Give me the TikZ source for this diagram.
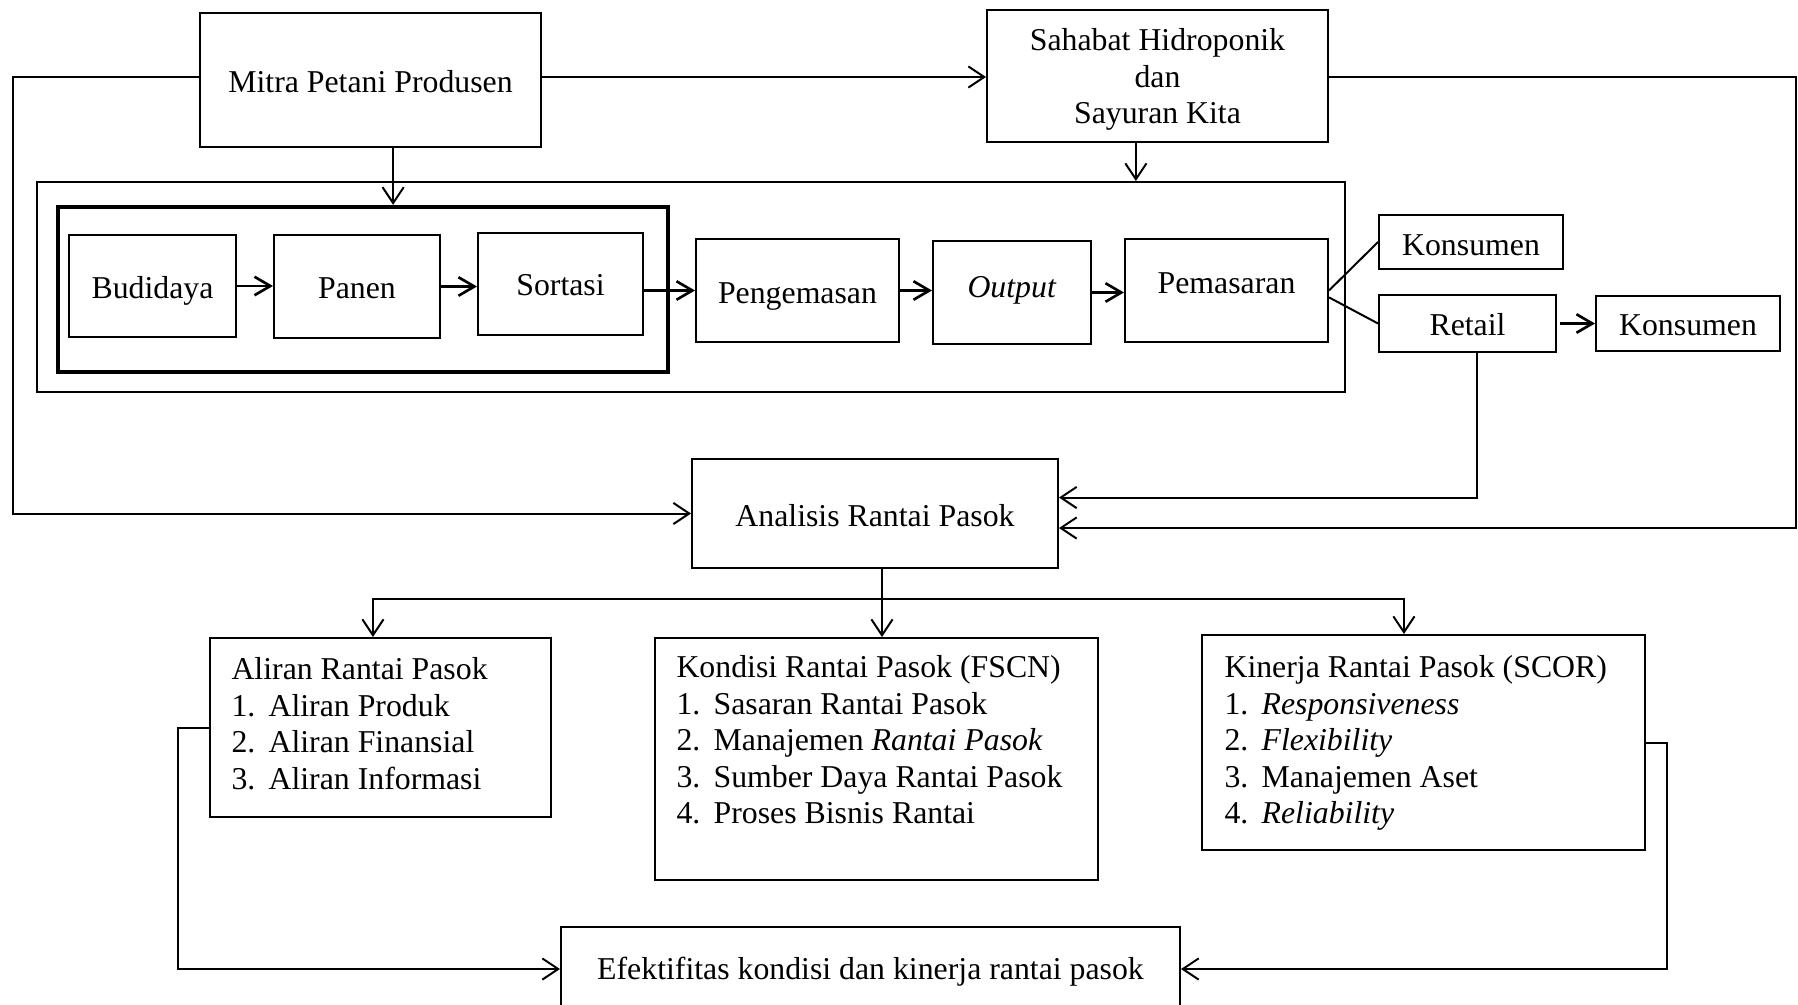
\documentclass[tikz,border=0pt]{standalone}
\usepackage{fontspec}
\setmainfont{Liberation Serif}
\usetikzlibrary{arrows.meta,fit,calc}
\begin{document}
\begin{tikzpicture}[x=0.3774pt,y=-0.3774pt,
  every node/.style={font=\fontsize{12}{13.8}\selectfont},
  box/.style={draw, line width=0.75pt, inner sep=0pt, rectangle},
  thickbox/.style={draw, line width=1.6pt, inner sep=0pt, rectangle},
  lbl/.style={anchor=base, inner sep=0pt},
  conn/.style={line width=0.75pt},
  arr/.style={conn, -{Straight Barb[length=6pt,width=8pt]}},
  parr/.style={line width=1pt, -{Straight Barb[length=6pt,width=7pt]}},
  listtext/.style={anchor=north west, inner sep=0pt, align=left}
]
\useasboundingbox (0,0) rectangle (1798,1004);
\clip (0,0) rectangle (1798,1004);

% top boxes
\node[box, fit={(200,13)(541,147)}] (mitra) {};
\node[lbl] (mitraT) at ($(mitra.center)+(0,12.5)$) {Mitra Petani Produsen};
\node[box, fit={(987,10)(1328,142)}] (sahabat) {};
\node[align=center, inner sep=0pt] (sahabatT) at ($(sahabat.center)+(0,3.5)$) {Sahabat Hidroponik\\dan\\Sayuran Kita};

% process frame
\node[box, fit={(37,182)(1345,392)}] (outer) {};
\node[thickbox, fit={(58,207)(668,372)}] (thick) {};
\node[box, fit={(69,235)(236,337)}] (budidaya) {};
\node[lbl] (budidayaT) at ($(budidaya.center)+(0,12.5)$) {Budidaya};
\node[box, fit={(274,235)(440,338)}] (panen) {};
\node[lbl] (panenT) at ($(panen.center)+(0,12)$) {Panen};
\node[box, fit={(478,233)(643,335)}] (sortasi) {};
\node[lbl] (sortasiT) at ($(sortasi.center)+(0,11.5)$) {Sortasi};
\node[box, fit={(696,239)(899,342)}] (pengemasan) {};
\node[lbl] (pengemasanT) at ($(pengemasan.center)+(0,13)$) {Pengemasan};
\node[box, fit={(933,241)(1091,344)}] (output) {};
\node[lbl] (outputT) at ($(output.center)+(0,5)$) {\textit{Output}};
\node[box, fit={(1125,239)(1328,342)}] (pemasaran) {};
\node[lbl] (pemasaranT) at ($(pemasaran.center)+(0,3)$) {Pemasaran};
\node[box, fit={(1379,215)(1563,269)}] (kons1) {};
\node[lbl] (kons1T) at ($(kons1.center)+(0,13.5)$) {Konsumen};
\node[box, fit={(1379,295)(1556,352)}] (retail) {};
\node[lbl] (retailT) at ($(retail.center)+(0,12)$) {Retail};
\node[box, fit={(1596,296)(1780,351)}] (kons2) {};
\node[lbl] (kons2T) at ($(kons2.center)+(0,12)$) {Konsumen};

% analysis
\node[box, fit={(692,459)(1058,568)}] (analisis) {};
\node[lbl] (analisisT) at ($(analisis.center)+(0,12.5)$) {Analisis Rantai Pasok};

% three boxes
\node[box, fit={(210,638)(551,817)}] (aliran) {};
\node[listtext] (aliranT) at (231,657) {Aliran Rantai Pasok\\
\makebox[14pt][l]{1.}Aliran Produk\\
\makebox[14pt][l]{2.}Aliran Finansial\\
\makebox[14pt][l]{3.}Aliran Informasi};

\node[box, fit={(655,638)(1098,880)}] (fscn) {};
\node[listtext] (fscnT) at (676,655) {Kondisi Rantai Pasok (FSCN)\\
\makebox[14pt][l]{1.}Sasaran Rantai Pasok\\
\makebox[14pt][l]{2.}Manajemen \textit{Rantai Pasok}\\
\makebox[14pt][l]{3.}Sumber Daya Rantai Pasok\\
\makebox[14pt][l]{4.}Proses Bisnis Rantai};

\node[box, fit={(1202,635)(1645,850)}] (kinerja) {};
\node[listtext] (kinerjaT) at (1224,655) {Kinerja Rantai Pasok (SCOR)\\
\makebox[14pt][l]{1.}\textit{Responsiveness}\\
\makebox[14pt][l]{2.}\textit{Flexibility}\\
\makebox[14pt][l]{3.}Manajemen Aset\\
\makebox[14pt][l]{4.}\textit{Reliability}};

\node[box, fit={(561,927)(1180,1011)}] (efek) {};
\node[lbl] (efekT) at ($(efek.center)+(0,10.5)$) {Efektifitas kondisi dan kinerja rantai pasok};

% helper coordinates
\coordinate (ytop) at (0,77);
\coordinate (xleft) at (12.6,0);
\coordinate (xright) at (1796,0);
\coordinate (yret1) at (0,497.5);
\coordinate (yret2) at (0,528);
\coordinate (ysplit) at (0,599);
\coordinate (xal) at (178,0);
\coordinate (xki) at (1667,0);
\coordinate (mitraOut) at ($(mitra.south west)!0.566!(mitra.south east)$);
\coordinate (sahOut) at ($(sahabat.south west)!0.437!(sahabat.south east)$);
\coordinate (retOut) at ($(retail.south west)!0.554!(retail.south east)$);
\coordinate (anaOut) at ($(analisis.south west)!0.519!(analisis.south east)$);
\coordinate (alIn) at ($(aliran.north west)!0.478!(aliran.north east)$);
\coordinate (kiIn) at ($(kinerja.north west)!0.456!(kinerja.north east)$);

% connectors
\draw[arr] (mitra.west |- ytop) -| (xleft |- analisis.west) -- (analisis.west);
\draw[arr] (mitra.east |- ytop) -- (sahabat.west |- ytop);
\draw[arr] (sahabat.east |- ytop) -| (xright |- yret2) -- (analisis.east |- yret2);
\draw[arr] (retOut) |- (analisis.east |- yret1);
\draw[arr] (mitraOut) -- (mitraOut |- thick.north);
\draw[arr] (sahOut) -- (sahOut |- outer.north);

\draw[parr] (budidaya.east) -- (budidaya.east -| panen.west);
\draw[parr] (panen.east) -- (panen.east -| sortasi.west);
\draw[parr] (sortasi.east |- pengemasan.west) -- (pengemasan.west);
\draw[parr] (pengemasan.east) -- (pengemasan.east -| output.west);
\draw[parr] (output.east) -- (output.east -| pemasaran.west);
\draw[conn] (pemasaran.east) -- (kons1.west);
\draw[conn] ([yshift=-2.6pt]pemasaran.east) -- (retail.west);
\draw[parr] ([xshift=1pt]retail.east) -- (retail.east -| kons2.west);

\draw[arr] (anaOut) -- (anaOut |- fscn.north);
\draw[conn, {Straight Barb[length=6pt,width=8pt]}-{Straight Barb[length=6pt,width=8pt]}]
  (alIn) -- (alIn |- ysplit) -- (kiIn |- ysplit) -- (kiIn);

\draw[arr] (aliran.west) -- (aliran.west -| xal) |- (efek.west);
\draw[arr] (kinerja.east) -- (kinerja.east -| xki) |- (efek.east);
\end{tikzpicture}
\end{document}
